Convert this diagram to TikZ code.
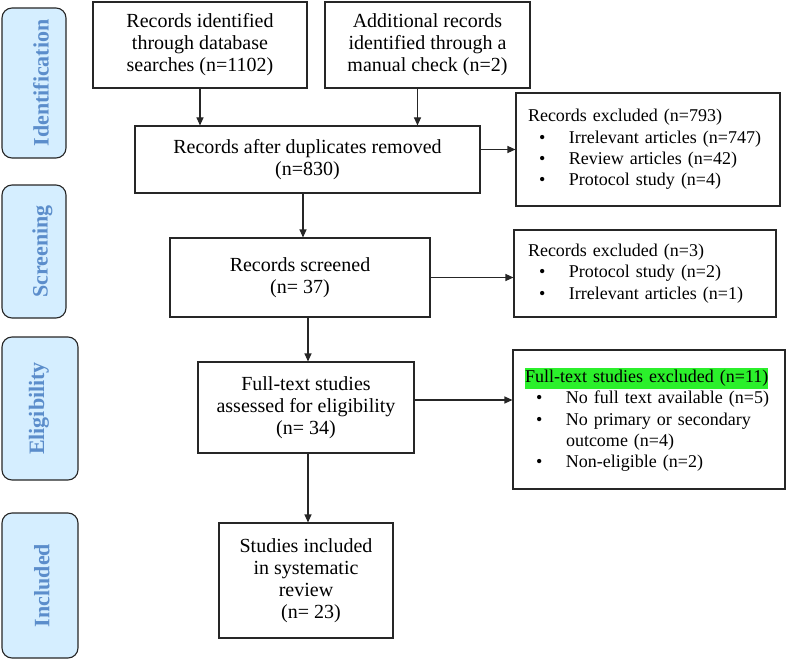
\documentclass[tikz,border=0pt]{standalone}
\usepackage{fontspec}
\setmainfont{Liberation Serif}
\usetikzlibrary{arrows.meta}
\definecolor{sidefill}{HTML}{D5EEFF}
\definecolor{sidetext}{HTML}{5B8DCB}
\definecolor{edge}{HTML}{262626}
\definecolor{hl}{HTML}{2BF02B}
\newcommand\bitem{\hspace*{11pt}\makebox[30pt][l]{•}}
\begin{document}
\begin{tikzpicture}[x=1pt,y=-1pt,
  mainbox/.style={draw=edge,line width=1.1pt,align=center,inner sep=2pt,
    font=\fontsize{20}{22}\selectfont},
  exbox/.style={draw=edge,line width=1.1pt,align=left,inner ysep=2pt,
    font=\fontsize{18}{21.3}\selectfont},
  side/.style={draw=edge,line width=1.1pt,fill=sidefill,rounded corners=10pt},
  sidelabel/.style={text=sidetext,rotate=90,inner sep=0pt,
    font=\fontsize{22}{24}\selectfont\bfseries},
  arr/.style={draw=edge,line width=1.1pt,-{Triangle[length=8pt,width=7pt]}}]
\useasboundingbox (0,0) rectangle (788,661);

% phase labels
\node[side,minimum width=64pt,minimum height=150pt] (l1) at (34,83) {};
\node[side,minimum width=64pt,minimum height=133pt] (l2) at (34,251.5) {};
\node[side,minimum width=76pt,minimum height=143pt] (l3) at (40,408.5) {};
\node[side,minimum width=76pt,minimum height=145pt] (l4) at (40,585.5) {};
\node[sidelabel] (t1) at ([xshift=7pt]l1.center) {Identification};
\node[sidelabel] (t2) at ([xshift=8.5pt]l2.center) {Screening};
\node[sidelabel] (t3) at ([xshift=-1pt]l3.center) {Eligibility};
\node[sidelabel] (t4) at ([xshift=2pt]l4.center) {Included};

% main boxes
\node[mainbox,minimum width=214pt,minimum height=86pt] (b1) at (200,45)
  {Records identified\\through database\\searches (n=1102)};
\node[mainbox,minimum width=205pt,minimum height=86pt] (b2) at (427.5,45)
  {Additional records\\identified through a\\manual check (n=2)};
\node[mainbox,minimum width=345pt,minimum height=67pt] (b3) at (307.5,159.5)
  {Records after duplicates removed\\(n=830)};
\node[mainbox,minimum width=260pt,minimum height=79pt] (b4) at (300,277.5)
  {Records screened\\(n= 37)};
\node[mainbox,minimum width=216pt,minimum height=91pt] (b5) at (306,407.5)
  {Full-text studies\\assessed for eligibility\\(n= 34)};
\node[mainbox,minimum width=174pt,minimum height=115pt] (b6) at (306,580.5)
  {Studies included\\in systematic\\review\\\hspace*{10pt}(n= 23)};

% exclusion boxes
\node[exbox,inner xsep=12pt,text width=240pt,minimum height=113pt] (e1) at (648,149.5)
  {Records excluded (n=793)\\
   \bitem Irrelevant articles (n=747)\\
   \bitem Review articles (n=42)\\
   \bitem Protocol study (n=4)};
\node[exbox,inner xsep=14pt,text width=234pt,minimum height=87pt] (e2) at (645,273.5)
  {Records excluded (n=3)\\
   \bitem Protocol study (n=2)\\
   \bitem Irrelevant articles (n=1)};
\node[exbox,inner xsep=12pt,text width=248pt,minimum height=139pt] (e3) at (649,419.5)
  {{\setlength\fboxsep{0pt}\colorbox{hl}{\strut Full-text studies excluded (n=11)}}\\
   \bitem No full text available (n=5)\\
   \bitem No primary or secondary\\
   \hspace*{41pt}outcome (n=4)\\
   \bitem Non-eligible (n=2)};

% connectors
\draw[arr] (b1.south) -- (b1.south |- b3.north);
\draw[arr] ([xshift=-10pt]b2.south) -- ([xshift=-10pt]b2.south |- b3.north);
\draw[arr] ([xshift=-4.5pt]b3.south) -- ([xshift=-4.5pt]b3.south |- b4.north);
\draw[arr] ([xshift=8pt]b4.south) -- ([xshift=8pt]b4.south |- b5.north);
\draw[arr] ([xshift=2pt]b5.south) -- ([xshift=2pt]b5.south |- b6.north);
\draw[arr] (b3.east |- e1.west) -- (e1.west);
\draw[arr] (b4.east) -- (b4.east -| e2.west);
\draw[arr] ([yshift=7.5pt]b5.east) -- ([yshift=7.5pt]b5.east -| e3.west);
\end{tikzpicture}
\end{document}
